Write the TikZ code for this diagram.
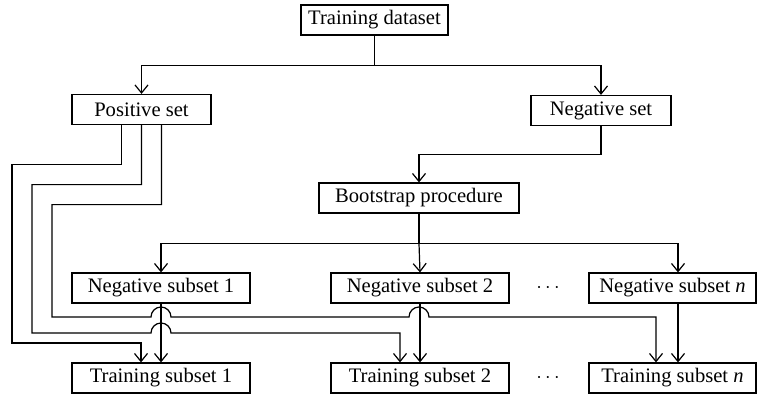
\documentclass[tikz,border=0pt]{standalone}
\usepackage{fontspec}
\setmainfont{Liberation Serif}
\usetikzlibrary{arrows.meta}

\tikzset{
  box/.style={draw,inner sep=0pt,minimum height=15pt,font=\fontsize{10.3}{12}\selectfont},
  arr/.style={-{Straight Barb[length=4pt,width=6.5pt]}},
}

\begin{document}
\begin{tikzpicture}[x=0.5pt,y=-0.5pt,line width=0.6pt]
  \useasboundingbox (0,0) rectangle (759,396);
  % boxes
  \node[box,minimum width=73.5pt] (td) at (374.5,20) {Training dataset};
  \node[box,minimum width=69.5pt] (ps) at (141.5,109.5) {Positive set};
  \node[box,minimum width=70pt] (ns) at (601,110.5) {Negative set};
  \node[box,minimum width=100pt] (bp) at (419,198) {Bootstrap procedure};
  \node[box,minimum width=89pt] (neg1) at (161,288) {Negative subset 1};
  \node[box,minimum width=89pt] (neg2) at (420,288) {Negative subset 2};
  \node[box,minimum width=83.5pt] (negn) at (672.5,288) {Negative subset \textit{n}};
  \node[box,minimum width=89pt] (trn1) at (161,378) {Training subset 1};
  \node[box,minimum width=89pt] (trn2) at (420,378) {Training subset 2};
  \node[box,minimum width=83.5pt] (trnn) at (672.5,378) {Training subset \textit{n}};
  \node[font=\fontsize{10.3}{12}\selectfont] (dots1) at (548,288) {$\cdots$};
  \node[font=\fontsize{10.3}{12}\selectfont] (dots2) at (548,378) {$\cdots$};
  % top split
  \draw[arr] (td.south) -- ++(0,30) -| (ps.north);
  \draw[arr] (td.south) -- ++(0,30) -| (ns.north);
  \draw[arr] (ns.south) -- ++(0,28) -| (bp.north);
  % bootstrap split
  \draw (bp.south) -- ++(0,30) coordinate (split);
  \draw[arr] (split) -| (neg1.north);
  \draw[arr] (split) -- (neg2.north);
  \draw[arr] (split) -| ([xshift=2.75pt]negn.north);
  % negative subsets down
  \draw[arr] (neg1) -- (trn1);
  \draw[arr] (neg2) -- (trn2);
  \draw[arr] ([xshift=2.75pt]negn.south) -- ([xshift=2.75pt]trnn.north);
  % positive set to every training subset
  \draw[arr] ([xshift=-10pt]ps.south) -- ++(0,39.5) -| (12,343) -| ([xshift=-10pt]trn1.north);
  \draw[arr] (ps.south) -- ++(0,59.5) -| (32,333) -- (151,333)
    arc[start angle=180,end angle=0,radius=5pt] -| ([xshift=-10pt]trn2.north);
  \draw[arr] ([xshift=10pt]ps.south) -- ++(0,79.5) -| (52,317) -- (151,317)
    arc[start angle=180,end angle=0,radius=5pt] -- (409,317)
    arc[start angle=180,end angle=0,radius=5pt] -| ([xshift=-8.25pt]trnn.north);
\end{tikzpicture}
\end{document}
